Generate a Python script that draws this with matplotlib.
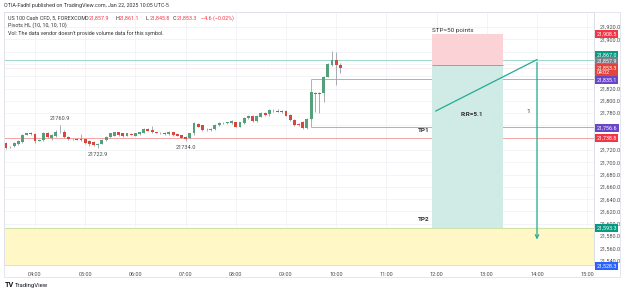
import matplotlib
matplotlib.use("Agg")
import matplotlib.pyplot as plt
from matplotlib.patches import Rectangle
from matplotlib.transforms import blended_transform_factory

plt.rcParams['font.family'] = ['Roboto', 'DejaVu Sans']

# 5 minute candles, first one at 03:25
first_candle = 3 + 25 / 60
opens = [21730.8, 21724.5, 21726.5, 21729.0, 21733.5, 21745.0, 21747.0, 21746.0, 21735.0, 21736.3,
         21747.0, 21739.0, 21742.0, 21750.5, 21750.0, 21741.0, 21738.5, 21737.5, 21738.4, 21737.3,
         21735.0, 21733.0, 21728.0, 21730.5, 21736.3, 21741.5, 21743.0, 21748.5, 21747.0, 21743.3,
         21745.5, 21742.8, 21745.5, 21748.0, 21753.5, 21752.5, 21748.7, 21748.0, 21748.0, 21746.0,
         21749.5, 21746.0, 21744.5, 21741.0, 21740.0, 21747.0, 21762.3, 21760.0, 21752.5, 21753.0,
         21753.6, 21760.0, 21763.4, 21764.5, 21764.4, 21765.0, 21758.0, 21763.4, 21771.5, 21775.8,
         21767.7, 21774.2, 21779.6, 21778.0, 21783.4, 21784.0, 21782.3, 21783.4, 21776.9, 21768.8,
         21763.0, 21766.0, 21755.2, 21770.0, 21813.2, 21812.0, 21812.0, 21839.2, 21858.2, 21866.3,
         21857.9]
highs = [21732.5, 21727.0, 21733.0, 21737.0, 21746.0, 21748.0, 21748.5, 21747.0, 21738.0, 21749.0,
         21749.0, 21746.0, 21752.0, 21760.9, 21752.0, 21742.0, 21739.0, 21739.0, 21746.0, 21738.0,
         21737.0, 21735.0, 21731.0, 21738.0, 21743.0, 21748.0, 21750.0, 21750.0, 21748.0, 21748.0,
         21747.0, 21748.0, 21750.0, 21755.0, 21755.0, 21759.0, 21750.0, 21749.0, 21749.0, 21751.0,
         21750.0, 21747.0, 21745.0, 21742.0, 21748.0, 21765.0, 21764.0, 21761.0, 21755.0, 21755.0,
         21762.0, 21765.0, 21766.0, 21766.0, 21769.0, 21766.0, 21766.0, 21773.0, 21777.0, 21777.0,
         21777.0, 21781.0, 21781.0, 21786.0, 21786.0, 21786.0, 21785.0, 21785.0, 21778.0, 21770.0,
         21764.0, 21767.0, 21772.0, 21815.0, 21815.0, 21814.0, 21840.0, 21861.0, 21881.0, 21878.8,
         21861.1]
lows = [21721.0, 21723.0, 21725.0, 21728.0, 21732.0, 21744.0, 21745.0, 21731.0, 21734.0, 21735.0,
        21739.0, 21737.0, 21741.0, 21748.0, 21740.0, 21737.0, 21736.0, 21735.5, 21735.0, 21729.0,
        21727.0, 21726.0, 21722.9, 21729.0, 21735.0, 21740.0, 21742.0, 21743.0, 21741.0, 21742.0,
        21744.0, 21742.0, 21745.0, 21747.0, 21751.0, 21747.0, 21747.0, 21746.0, 21745.0, 21745.0,
        21743.0, 21742.0, 21739.0, 21734.0, 21738.0, 21745.0, 21757.0, 21751.0, 21751.0, 21751.5,
        21752.0, 21759.0, 21762.0, 21763.0, 21763.0, 21757.0, 21757.0, 21762.0, 21770.0, 21766.0,
        21766.0, 21773.0, 21775.0, 21776.0, 21782.0, 21781.0, 21780.5, 21775.0, 21767.0, 21759.0,
        21759.5, 21754.0, 21754.5, 21768.0, 21782.0, 21779.6, 21798.6, 21838.0, 21856.0, 21825.7,
        21845.8]
closes = [21723.8, 21725.5, 21730.8, 21735.0, 21744.4, 21747.0, 21746.0, 21735.0, 21736.5, 21747.0,
          21740.6, 21744.4, 21750.0, 21751.5, 21741.0, 21738.4, 21737.5, 21737.0, 21736.3, 21730.8,
          21729.0, 21728.0, 21730.0, 21737.0, 21741.7, 21747.0, 21748.5, 21744.5, 21742.5, 21747.0,
          21745.0, 21747.0, 21748.7, 21753.5, 21751.5, 21748.7, 21748.0, 21747.5, 21746.0, 21749.5,
          21744.5, 21742.8, 21740.0, 21738.4, 21747.0, 21763.4, 21758.0, 21752.5, 21753.0, 21753.6,
          21760.6, 21763.4, 21764.4, 21764.5, 21767.2, 21758.0, 21765.0, 21771.5, 21775.8, 21767.7,
          21775.8, 21779.6, 21776.9, 21785.0, 21784.0, 21782.3, 21782.0, 21775.8, 21768.8, 21760.6,
          21760.6, 21755.2, 21770.4, 21813.7, 21810.5, 21810.5, 21839.2, 21859.8, 21866.3, 21857.9,
          21853.3]

hour_ticks = [4, 5, 6, 7, 8, 9, 10, 11, 12, 13, 14, 15]
grid_prices = [21540, 21560, 21580, 21600, 21620, 21640, 21660, 21680, 21700, 21720,
               21740, 21760, 21780, 21800, 21820, 21840, 21860, 21880, 21900, 21920]
# tick labels not hidden behind the coloured price tags
label_prices = [21540, 21560, 21580, 21600, 21620, 21640, 21660, 21680, 21700, 21720,
                21780, 21800, 21820, 21900, 21920]

# pivots and drawn levels
pivot_start = 9.5
pivot_high = 21835.1
pivot_low = 21756.6
pivot_marks = [(13, 21760.9, "21760.9", "above"), (22, 21722.9, "21722.9", "below"),
               (43, 21734.0, "21734.0", "below")]
level_teal = 21867.0
level_red = 21738.8
last_price = 21853.3
zone_top, zone_bottom = 21593.3, 21528.3

# short position tool
pos_start, pos_end = 11 + 54 / 60, 13 + 19 / 60
stop_price, entry_price, target_price = 21908.5, 21857.9, 21593.3
path_t = [11 + 59 / 60, 14.0, 14.0]
path_p = [21783.4, 21867.0, 21570.0]

UP, DOWN, WICK = '#54a07a', '#d9463e', '#9a9ea8'
TEAL = '#22ab94'
PURPLE = '#b7a3e0'
TXT = '#4a4a4a'

W, H = 625, 294
fig = plt.figure(figsize=(W / 100, H / 100), dpi=100)
fig.patch.set_facecolor('white')


def fx(px):
    return px / W


def fy(py):
    return 1 - py / H


ax = fig.add_axes([fx(4), fy(265), fx(594) - fx(4), fy(12) - fy(265)])
ax.set_xlim(3.3825, 15.1355)
ax.set_ylim(21533.0, 21944.4)

for p in grid_prices:
    ax.axhline(p, color='#f0f2f6', lw=0.6, zorder=0)
for h in hour_ticks:
    ax.axvline(h, color='#f0f2f6', lw=0.6, zorder=0)

# yellow zone
ax.add_patch(Rectangle((3.3, zone_bottom), 12, zone_top - zone_bottom, facecolor='#fff7c6',
                       edgecolor='none', zorder=1))
ax.axhline(zone_top, color='#cfe3a8', lw=0.8, zorder=1.1)

# levels
ax.axhline(level_teal, color='#9fd8ca', lw=0.7, zorder=1.2)
ax.axhline(level_red, color='#f5a5a5', lw=0.7, zorder=1.2)
ax.axhline(last_price, color='#f6c9cc', lw=0.5, ls=(0, (1, 1)), zorder=1.2)
ax.hlines([pivot_high, pivot_low], pivot_start, 15.2, color=PURPLE, lw=0.7, zorder=1.2)
ax.vlines(pivot_start, pivot_low, pivot_high, color=PURPLE, lw=0.7, zorder=1.2)

# position boxes
ax.add_patch(Rectangle((pos_start, entry_price), pos_end - pos_start, stop_price - entry_price,
                       facecolor='#fbd3d6', edgecolor='none', zorder=1.3))
ax.add_patch(Rectangle((pos_start, target_price), pos_end - pos_start, entry_price - target_price,
                       facecolor='#d0ebe5', edgecolor='none', zorder=1.3))
ax.hlines(entry_price, pos_start, pos_end, color='#9a9ea8', lw=0.7, zorder=1.4)

# candles
times = [first_candle + i * 5 / 60 for i in range(len(opens))]
cw = 5 / 60 * 0.7
ax.vlines(times, lows, highs, color=WICK, lw=0.6, zorder=2)
for t, o, c in zip(times, opens, closes):
    col = UP if c >= o else DOWN
    ax.bar(t, max(abs(c - o), 0.8), bottom=min(o, c), width=cw, color=col, zorder=2.1, lw=0)

# trade path with arrow
ax.plot(path_t[:2], path_p[:2], color=TEAL, lw=0.9, zorder=3)
ax.annotate('', xy=(path_t[2], path_p[2]), xytext=(path_t[1], path_p[1]),
            arrowprops=dict(arrowstyle='->', color=TEAL, lw=0.9, mutation_scale=6), zorder=3)

ax.text(pos_start, 21915, "STP=50 points", fontsize=4.6, color='#333',
        ha='left', va='center')
ax.text(12.7, 21777, "R:R=5.1", fontsize=4.6, color='#333', ha='center', va='center',
        fontweight='bold')
ax.text(13.82, 21783.4, "1", fontsize=4.6, color='#333', ha='center', va='center')
ax.text(11.86, 21751, "TP1", fontsize=4.6, color='#333', ha='right', va='center',
        fontweight='bold')
ax.text(11.86, 21607, "TP2", fontsize=4.6, color='#333', ha='right', va='center',
        fontweight='bold')

for k, p, lab, side in pivot_marks:
    off = 7 if side == "above" else -6
    ax.text(times[k], p + off, lab, fontsize=4.1, color=TXT, ha='center',
            va='bottom' if side == "above" else 'top')

# axes styling
ax.yaxis.tick_right()
ax.set_yticks(label_prices)
ax.set_yticklabels([f"{p:,.1f}" for p in label_prices])
ax.set_xticks(hour_ticks)
ax.set_xticklabels([f"{h:02d}:00" for h in hour_ticks])
ax.tick_params(axis='both', length=0, labelsize=4.0, labelcolor=TXT)
ax.tick_params(axis='y', pad=4)
ax.tick_params(axis='x', pad=5)
for s in ax.spines.values():
    s.set_color('#d6d9e0')
    s.set_linewidth(0.6)

# coloured price tags
tr = blended_transform_factory(ax.transAxes, ax.transData)
price_tags = [("21,908.5", stop_price, '#f23645', 0),
              ("21,867.0", level_teal, '#089981', 8),
              ("21,857.9", entry_price, '#7b7f8a', 6),
              ("21,853.3\n04:02", last_price, '#e0443c', -4),
              ("21,835.1", pivot_high, '#6a45c8', -2),
              ("21,756.6", pivot_low, '#6a45c8', -1),
              ("21,738.8", level_red, '#f23645', 0),
              ("21,593.3", target_price, '#089981', 0),
              ("21,528.3", zone_bottom, '#2962ff', 3.5)]
for lab, p, col, nudge in price_tags:
    ax.text(1.004, p + nudge, lab, transform=tr, fontsize=3.9, color='white', ha='left',
            va='center', clip_on=False, linespacing=1.0, zorder=10,
            bbox=dict(boxstyle='square,pad=0.28', fc=col, ec='none'))

# header & legend
fig.text(fx(4), fy(6), "OTIA-Fadhl published on TradingView.com, Jan 22, 2025 10:05 UTC-5",
         fontsize=3.9, color='#333', va='center')
fig.text(fx(8), fy(18), "US 100 Cash CFD, 5, FOREXCOM", fontsize=3.9, color='#333', va='center')
for x0, letter, val in [(85, "O", "21,857.9"), (115, "H", "21,861.1"),
                        (146, "L", "21,845.8"), (173, "C", "21,853.3")]:
    fig.text(fx(x0), fy(18), letter, fontsize=3.9, color='#333', va='center')
    fig.text(fx(x0 + 4), fy(18), val, fontsize=3.9, color='#f23645', va='center')
fig.text(fx(201), fy(18), "\u22124.6 (\u22120.02%)", fontsize=3.9, color='#f23645', va='center')
fig.text(fx(8), fy(25.5), "Pivots HL (10, 10, 10, 10)", fontsize=3.9, color='#333', va='center')
fig.text(fx(8), fy(33), "Vol: The data vendor doesn't provide volume data for this symbol.",
         fontsize=3.9, color='#333', va='center')

fig.add_artist(Rectangle((fx(4), fy(277)), fx(620) - fx(4), fy(12) - fy(277),
                         transform=fig.transFigure, fill=False, edgecolor='#e0e3eb', lw=0.6))
fig.text(fx(5), fy(285), "TV", fontsize=5.2, color='#131722', va='center', fontweight='bold')
fig.text(fx(15), fy(285), "TradingView", fontsize=4.3, color='#131722', va='center')

fig.savefig("out.png", dpi=100, facecolor='white')
